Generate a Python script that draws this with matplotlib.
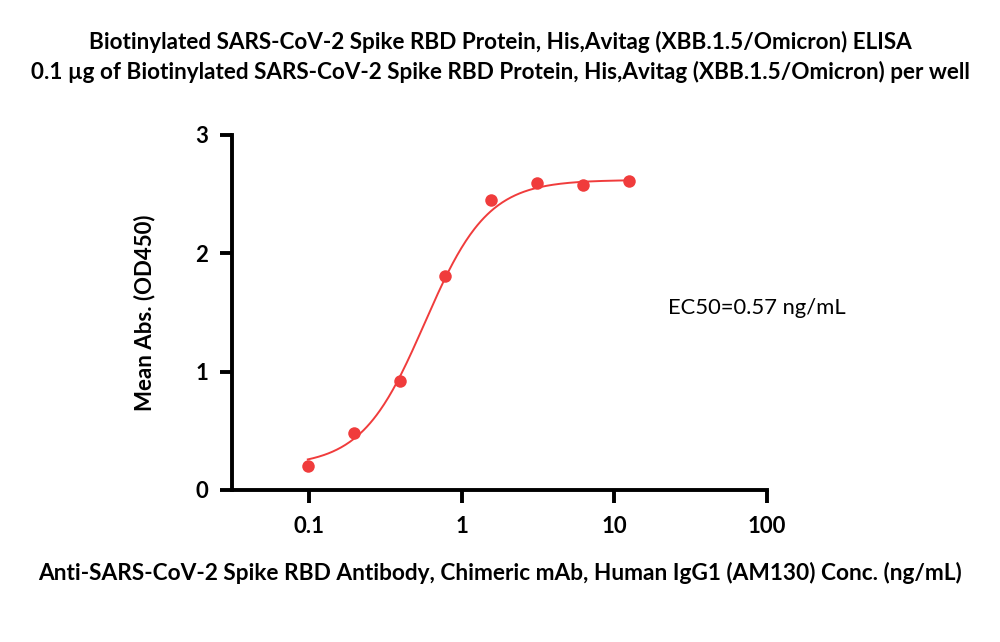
import numpy as np
import matplotlib
matplotlib.use('Agg')
import matplotlib.pyplot as plt

plt.rcParams['font.family'] = ['Lato', 'DejaVu Sans']

conc = [0.0977, 0.195, 0.39, 0.78, 1.5625, 3.125, 6.25, 12.5]
od450 = [0.20, 0.48, 0.92, 1.81, 2.45, 2.59, 2.58, 2.61]

# 4PL fit parameters
bottom, top, ec50, hill = 0.20, 2.62, 0.57, 2.1

red = '#f03c3c'

fig = plt.figure(figsize=(10, 6.42), dpi=100)
ax = fig.add_axes([0.232, 0.2368, 0.535, 0.553])

xs = np.logspace(np.log10(conc[0]), np.log10(conc[-1]), 300)
ys = bottom + (top - bottom) / (1 + (ec50 / xs) ** hill)
ax.plot(xs, ys, color=red, lw=1.4)
ax.plot(conc, od450, 'o', color=red, ms=9, mec='none')

ax.set_xscale('log')
ax.set_xlim(10 ** -1.507, 100)
ax.set_ylim(0, 3)
ax.set_xticks([0.1, 1, 10, 100])
ax.set_xticklabels(['0.1', '1', '10', '100'])
ax.set_yticks([0, 1, 2, 3])
ax.minorticks_off()
for s in ['top', 'right']:
    ax.spines[s].set_visible(False)
for s in ['left', 'bottom']:
    ax.spines[s].set_linewidth(2.8)
ax.tick_params(width=2.8, length=9, labelsize=16, pad=8)
ax.tick_params(axis='x', pad=10)
for lab in ax.get_xticklabels() + ax.get_yticklabels():
    lab.set_fontweight('bold')

ax.set_ylabel('Mean Abs. (OD450)', fontsize=16, fontweight='bold', labelpad=29)
ax.set_xlabel('Anti-SARS-CoV-2 Spike RBD Antibody, Chimeric mAb, Human IgG1 (AM130) Conc. (ng/mL)',
              fontsize=16.3, fontweight='bold', labelpad=18)

ax.text(0.815, 0.513, 'EC50=0.57 ng/mL', transform=ax.transAxes, fontsize=15.8, va='center')

fig.text(0.5, 0.935, 'Biotinylated SARS-CoV-2 Spike RBD Protein, His,Avitag (XBB.1.5/Omicron) ELISA',
         ha='center', va='center', fontsize=16.2, fontweight='bold')
fig.text(0.5, 0.888, '0.1 \u00b5g of Biotinylated SARS-CoV-2 Spike RBD Protein, His,Avitag (XBB.1.5/Omicron) per well',
         ha='center', va='center', fontsize=16.2, fontweight='bold')

fig.savefig('out.png', dpi=100)
